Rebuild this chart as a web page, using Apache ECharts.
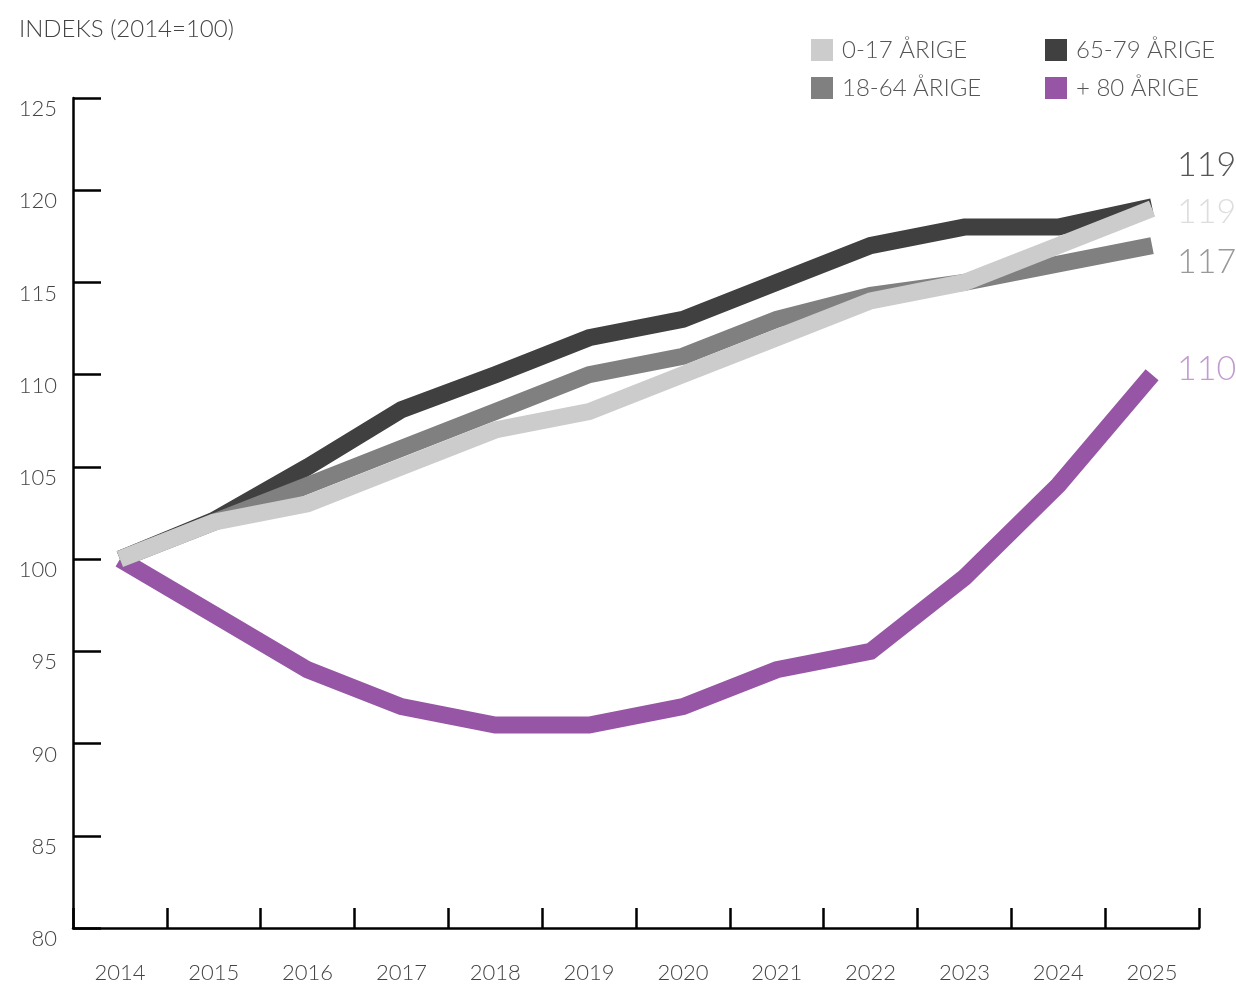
<!DOCTYPE html>
<html><head><meta charset="utf-8">
<script src="https://cdn.jsdelivr.net/npm/echarts@6/dist/echarts.min.js"></script>
<style>html,body{margin:0;padding:0;background:#fff}#c{width:1236px;height:985px}</style>
</head><body><div id="c"></div>
<script>
const years = ['2014','2015','2016','2017','2018','2019','2020','2021','2022','2023','2024','2025'];
const age0_17 = [100,102,103,105,107,108,110,112,114,115,117,119];
const age18_64 = [100,102,104,106,108,110,111,113,114.3,115,116,117];
const age65_79 = [100,102.1,105,108.1,110,112,113,115,117,118,118,119.1];
const age80 = [100,97,94,92,91,91,92,94,95,99,104,110];
const yTicks = {min:80, max:125, interval:5};
const FONT = 'Lato';

function line(name, data, color, labelColor, offset, z) {
  return {
    name, type:'line', data, z,
    symbol:'none', smooth:false,
    lineStyle:{width:17, color, cap:'butt', join:'miter'},
    itemStyle:{color},
    endLabel:{show:true, formatter: p => Math.round(p.value), color:labelColor, fontFamily:FONT, fontWeight:300, fontSize:34, distance:25, offset},
    emphasis:{disabled:true}
  };
}
const legendText = {fontFamily:FONT, fontWeight:300, fontSize:24, color:'#555', padding:[0,0,0,4]};
const chart = echarts.init(document.getElementById('c'));
chart.setOption({
  animation:false,
  textStyle:{fontFamily:FONT},
  title:{text:'INDEKS (2014=100)', left:14, top:12, textStyle:{fontFamily:FONT, fontWeight:300, fontSize:24, color:'#444'}},
  grid:{left:73, right:37, top:98, bottom:57},
  legend:[
    {left:806, top:33, orient:'vertical', icon:'rect', itemGap:14, itemWidth:22, itemHeight:22, data:['0-17 ÅRIGE','18-64 ÅRIGE'],
     textStyle:legendText, selectedMode:false},
    {left:1040, top:33, orient:'vertical', icon:'rect', itemGap:14, itemWidth:22, itemHeight:22, data:['65-79 ÅRIGE','+ 80 ÅRIGE'],
     textStyle:legendText, selectedMode:false}
  ],
  xAxis:{type:'category', data:years, boundaryGap:true,
    axisLine:{lineStyle:{color:'#000', width:2.5}},
    axisTick:{show:true, inside:true, length:20, interval:0, lineStyle:{color:'#000', width:2.5}},
    axisLabel:{margin:34, fontFamily:FONT, fontWeight:300, fontSize:22, color:'#444'}},
  yAxis:{type:'value', min:yTicks.min, max:yTicks.max, interval:yTicks.interval,
    splitLine:{show:false},
    axisLine:{show:true, lineStyle:{color:'#000', width:2.5}},
    axisTick:{show:true, inside:true, length:28, lineStyle:{color:'#000', width:2.5}},
    axisLabel:{margin:16, verticalAlign:'top', fontFamily:FONT, fontWeight:300, fontSize:22, color:'#444'}},
  series:[
    line('+ 80 ÅRIGE', age80, '#9755a5', '#c39bd0', [0,-6], 1),
    line('65-79 ÅRIGE', age65_79, '#404040', '#555555', [0,-42], 2),
    line('18-64 ÅRIGE', age18_64, '#808080', '#999999', [0,16], 3),
    line('0-17 ÅRIGE', age0_17, '#cccccc', '#dddddd', [0,3], 4)
  ]
});
</script></body></html>
